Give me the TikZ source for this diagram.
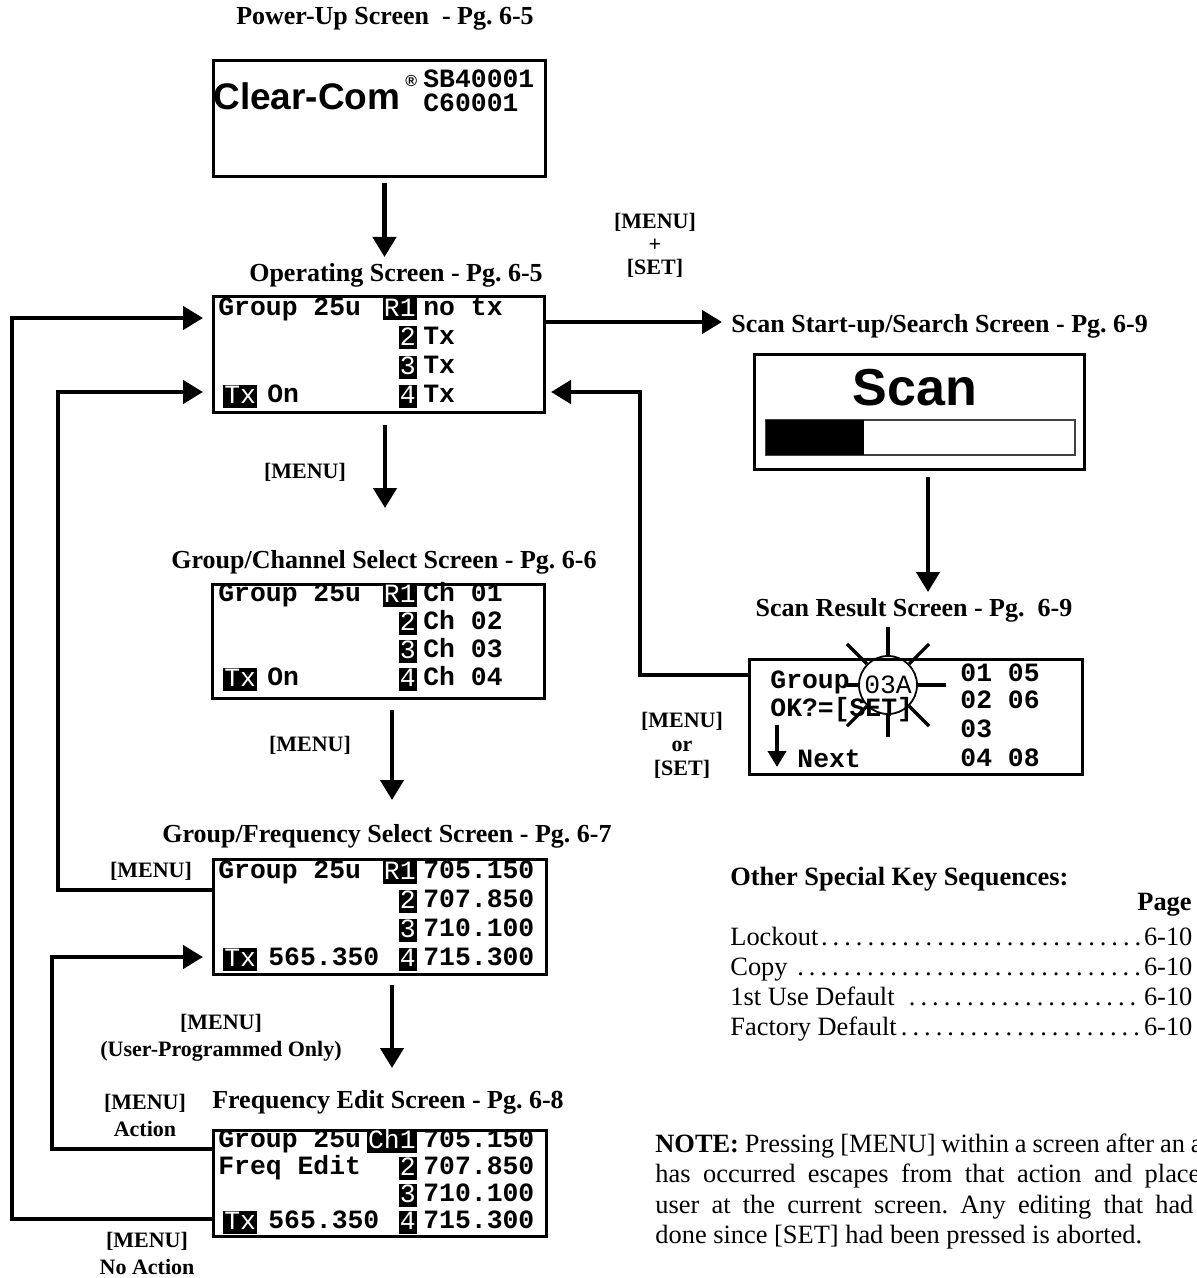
\documentclass[tikz,border=0pt]{standalone}
\usepackage{fontspec}
\setmainfont{Liberation Serif}
\newfontfamily\monof{Liberation Mono}
\newfontfamily\arialf{Liberation Sans}
\usetikzlibrary{arrows.meta}
\frenchspacing
\begin{document}
\begin{tikzpicture}[x=0.5pt,y=-0.5pt,
  ttl/.style={font=\bfseries\fontsize{13}{15}\selectfont, inner sep=0pt, anchor=base},
  lbl/.style={font=\bfseries\fontsize{11}{13.5}\selectfont, inner sep=0pt, align=center},
  screen/.style={draw, line width=1.3pt, anchor=north west, inner sep=0pt},
  lcd/.style={font=\monof\bfseries\fontsize{13.2}{15}\selectfont, inner sep=0pt, anchor=base west},
  inv/.style={fill=black, text=white, font=\monof\fontsize{13.2}{15}\selectfont, inner xsep=0.5pt, inner ysep=0pt, minimum height=11.5pt, text height=7.5pt, text depth=0pt, anchor=east},
  conn/.style={line width=2.2pt},
  arr/.style={conn, -{Triangle[width=11.5pt,length=10pt]}},
  ray/.style={line width=1.6pt},
]
\useasboundingbox (0,0) rectangle (1197,1278);
\clip (0,0) rectangle (1197,1278);

% ---------- Power-up ----------
\node[ttl] (t-pu) at (385,25) {Power-Up Screen\ \ - Pg. 6-5};
\node[screen, minimum width=166pt, minimum height=58pt] (pu) at (212,59) {};
\node[font=\arialf\bfseries\fontsize{18.5}{20}\selectfont, inner sep=0pt, anchor=base west] (pu-cc) at (213,110) {Clear-Com};
\node[font=\arialf\bfseries\fontsize{8}{9}\selectfont, inner sep=0pt, anchor=base west] (pu-r) at (405,87) {®};
\node[lcd] (pu-sb) at (423,88) {SB40001};
\node[lcd] (pu-c6) at (423,112) {C60001};

\coordinate (a1s) at (384.5,183);
\coordinate (a1e) at (384.5,257);
\draw[arr] (a1s) -- (a1e);

% ---------- Operating ----------
\node[ttl] (t-op) at (396,282) {Operating Screen - Pg. 6-5};
\node[screen, minimum width=165.5pt, minimum height=58pt] (op) at (212,295) {};
\node[lcd] (op-a) at (218,315) {Group 25u};
\node[inv] (op-i1) at (417,309) {R1};
\node[lcd] (op-b) at (423,315) {no tx};
\node[inv] (op-i2) at (417,338) {2};
\node[lcd] (op-c) at (423,344) {Tx};
\node[inv] (op-i3) at (417,367) {3};
\node[lcd] (op-d) at (423,373) {Tx};
\node[inv, anchor=west] (op-i5) at (223,396) {Tx};
\node[lcd] (op-e) at (267,402) {On};
\node[inv] (op-i4) at (417,396) {4};
\node[lcd] (op-f) at (423,402) {Tx};

% ---------- Scan start-up ----------
\node[lbl, font=\bfseries\fontsize{11}{11.5}\selectfont] (m-plus) at (655,245) {[MENU]\\+\\{}[SET]};
\node[ttl, anchor=base west] (t-sc) at (731,333) {Scan Start-up/Search Screen - Pg. 6-9};
\draw[arr, shorten >=4.5pt] (op.north east |- 0,322) -- (t-sc.west |- 0,322);
\node[screen, line width=1.5pt, minimum width=165pt, minimum height=57.5pt] (sc) at (753,353) {};
\node[font=\arialf\bfseries\fontsize{26}{28}\selectfont, inner sep=0pt, anchor=base] (sc-t) at (915,405) {Scan};
\draw[line width=0.6pt, draw=black!75] (766,420) rectangle (1075,455);
\fill (766,420) rectangle (864,455);

\coordinate (a3s) at (928,477);
\coordinate (a3e) at (928,592);
\draw[arr] (a3s) -- (a3e);

% ---------- Scan result ----------
\node[ttl] (t-sr) at (914,616) {Scan Result Screen - Pg.\ \ 6-9};
\node[screen, minimum width=166.5pt, minimum height=57.5pt] (sr) at (748,658) {};
\node[lcd] (sr-a) at (770,688) {Group};
\node[lcd] (sr-b) at (770,716) {OK?=[SET]};
\node[lcd] (sr-c) at (797,767) {Next};
\node[lcd] (sr-d) at (960,681) {01 05};
\node[lcd] (sr-e) at (960,708) {02 06};
\node[lcd] (sr-f) at (960,737) {03};
\node[lcd] (sr-g) at (960,766) {04 08};
\coordinate (burst) at (888,685);
\foreach \a in {0,45,90,135,225,315} \draw[ray] (burst) ++(\a:15pt) -- ++(\a:14pt);
\draw[ray] (burst) ++(270:15pt) -- ++(270:11pt);
\draw[ray] (burst) ++(180:14pt) -- ++(180:6.5pt);
\node[circle, draw, line width=0.9pt, minimum size=29pt, inner sep=0pt, font=\monof\fontsize{13.2}{15}\selectfont] (sr-o) at (burst) {03A};
\coordinate (a11s) at (777,725);
\coordinate (a11e) at (777,767);
\draw[line width=2pt, -{Triangle[width=9pt,length=8pt]}] (a11s) -- (a11e);
\node[lbl, font=\bfseries\fontsize{11}{12}\selectfont] (m-or) at (682,745) {[MENU]\\or\\{}[SET]};

\draw[arr] (sr.north west |- 0,675) -- (640,675) -- (640,392) -- (551,392);

% ---------- Group/Channel ----------
\node[lbl] (m1) at (305,472) {[MENU]};
\coordinate (a5s) at (385,425);
\coordinate (a5e) at (385,508);
\draw[arr] (a5s) -- (a5e);
\node[ttl] (t-gc) at (384,568) {Group/Channel Select Screen - Pg. 6-6};
\node[screen, minimum width=166pt, minimum height=57pt] (gc) at (211,583) {};
\node[lcd] (gc-a) at (218,601) {Group 25u};
\node[inv] (gc-i1) at (417,595) {R1};
\node[lcd] (gc-b) at (423,601) {Ch 01};
\node[inv] (gc-i2) at (417,623) {2};
\node[lcd] (gc-c) at (423,629) {Ch 02};
\node[inv] (gc-i3) at (417,651) {3};
\node[lcd] (gc-d) at (423,657) {Ch 03};
\node[inv, anchor=west] (gc-i5) at (223,679) {Tx};
\node[lcd] (gc-e) at (267,685) {On};
\node[inv] (gc-i4) at (417,679) {4};
\node[lcd] (gc-f) at (423,685) {Ch 04};

% ---------- Group/Frequency ----------
\node[lbl] (m2) at (310,745) {[MENU]};
\coordinate (a6s) at (392,710);
\coordinate (a6e) at (392,800);
\draw[arr] (a6s) -- (a6e);
\node[ttl] (t-gf) at (387,842) {Group/Frequency Select Screen - Pg. 6-7};
\node[screen, minimum width=166.5pt, minimum height=57.5pt] (gf) at (212,858) {};
\node[lcd] (gf-a) at (218,878) {Group 25u};
\node[inv] (gf-i1) at (417,872) {R1};
\node[lcd] (gf-b) at (423,878) {705.150};
\node[inv] (gf-i2) at (417,901) {2};
\node[lcd] (gf-c) at (423,907) {707.850};
\node[inv] (gf-i3) at (417,930) {3};
\node[lcd] (gf-d) at (423,936) {710.100};
\node[inv, anchor=west] (gf-i5) at (223,959) {Tx};
\node[lcd] (gf-e) at (268,965) {565.350};
\node[inv] (gf-i4) at (417,959) {4};
\node[lcd] (gf-f) at (423,965) {715.300};
\node[lbl] (m3) at (151,871) {[MENU]};
\draw[arr] (gf.north west |- 0,890) -- (58,890) -- (58,392) -- (203,392);

% ---------- Frequency Edit ----------
\node[lbl] (m4) at (221,1038) {[MENU]\\(User-Programmed Only)};
\coordinate (a7s) at (392,985);
\coordinate (a7e) at (392,1068);
\draw[arr] (a7s) -- (a7e);
\node[ttl] (t-fe) at (388,1108) {Frequency Edit Screen - Pg. 6-8};
\node[screen, minimum width=166.5pt, minimum height=53pt] (fe) at (212,1129) {};
\node[lcd] (fe-a) at (218,1147) {Group 25u};
\node[inv] (fe-i1) at (417,1141) {Ch1};
\node[lcd] (fe-b) at (423,1147) {705.150};
\node[lcd] (fe-g) at (218,1174) {Freq Edit};
\node[inv] (fe-i2) at (417,1168) {2};
\node[lcd] (fe-c) at (423,1174) {707.850};
\node[inv] (fe-i3) at (417,1195) {3};
\node[lcd] (fe-d) at (423,1201) {710.100};
\node[inv, anchor=west] (fe-i5) at (223,1222) {Tx};
\node[lcd] (fe-e) at (268,1228) {565.350};
\node[inv] (fe-i4) at (417,1222) {4};
\node[lcd] (fe-f) at (423,1228) {715.300};
\node[lbl] (m5) at (145,1115) {[MENU]\\Action};
\node[lbl] (m6) at (147,1253) {[MENU]\\No Action};
\draw[arr] (fe.north west |- 0,1149) -- (52,1149) -- (52,957) -- (203,957);
\draw[arr] (fe.north west |- 0,1219) -- (12,1219) -- (12,318) -- (203,318);

% ---------- Key sequences ----------
\begin{scope}[every node/.style={inner sep=0pt, anchor=base west, font=\fontsize{13.2}{15}\selectfont}]
\node[font=\bfseries\fontsize{13.2}{15}\selectfont] (k0) at (730,885) {Other Special Key Sequences:};
\node[anchor=base east, font=\bfseries\fontsize{13.2}{15}\selectfont] (kp) at (1192,910) {Page};
\node (k1) at (730,945) {\hbox to 231pt{Lockout\dotfill 6-10}};
\node (k2) at (730,975) {\hbox to 231pt{Copy \dotfill 6-10}};
\node (k3) at (730,1005) {\hbox to 231pt{1st Use Default \dotfill 6-10}};
\node (k4) at (730,1035) {\hbox to 231pt{Factory Default\dotfill 6-10}};
\node (note) at (655,1152) {\parbox[t]{300pt}{\fontsize{13.2}{15.25}\selectfont\textbf{NOTE:} Pressing [MENU] within a screen after an action\linebreak has occurred escapes from that action and places the\linebreak user at the current screen. Any editing that had been\linebreak done since [SET] had been pressed is aborted.}};
\end{scope}
\end{tikzpicture}
\end{document}
